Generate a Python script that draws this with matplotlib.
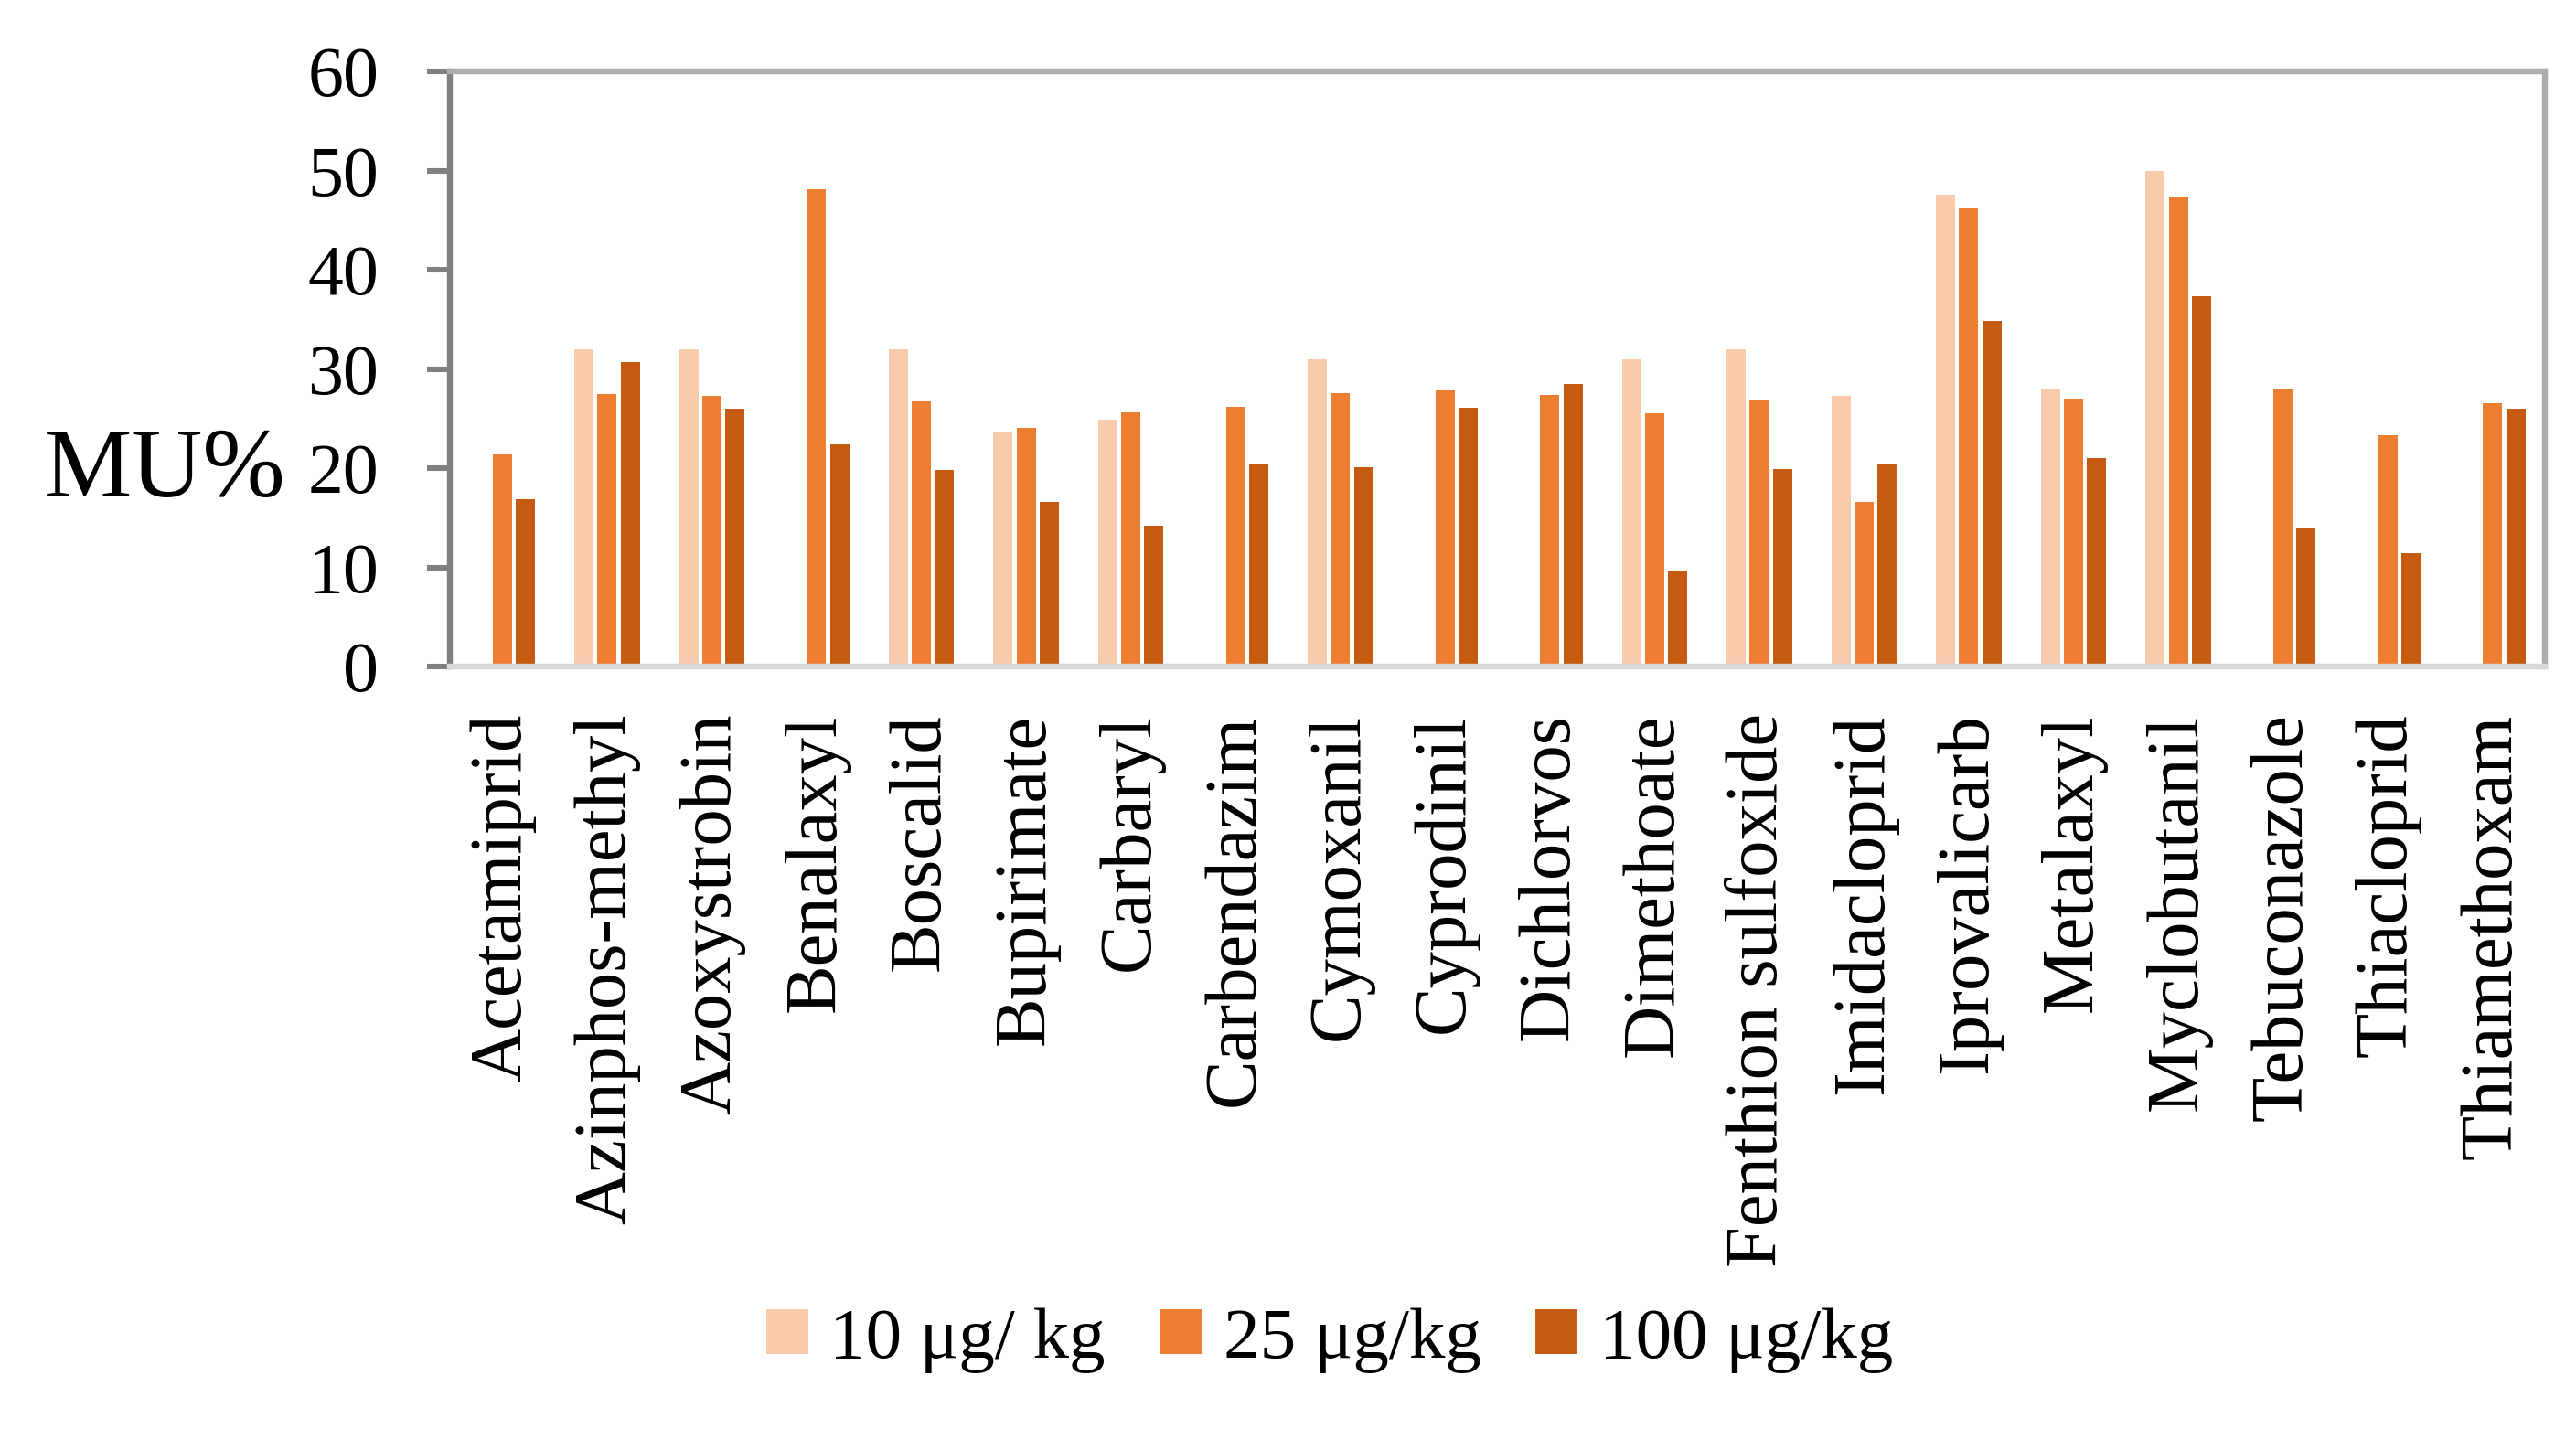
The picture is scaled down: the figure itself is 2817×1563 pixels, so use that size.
import numpy as np
import matplotlib
matplotlib.use("Agg")
import matplotlib.pyplot as plt

plt.rcParams['font.family'] = ['Liberation Serif', 'DejaVu Serif']

# ── data ────────────────────────────────────────────────────────────────
pesticides = ["Acetamiprid", "Azinphos-methyl", "Azoxystrobin", "Benalaxyl",
              "Boscalid", "Bupirimate", "Carbaryl", "Carbendazim", "Cymoxanil",
              "Cyprodinil", "Dichlorvos", "Dimethoate", "Fenthion sulfoxide",
              "Imidacloprid", "Iprovalicarb", "Metalaxyl", "Myclobutanil",
              "Tebuconazole", "Thiacloprid", "Thiamethoxam"]

mu_10 = [np.nan, 32.0, 32.0, np.nan, 32.0, 23.7, 24.9, np.nan, 31.0, np.nan,
         np.nan, 31.0, 32.0, 27.3, 47.6, 28.0, 50.0, np.nan, np.nan, np.nan]
mu_25 = [21.4, 27.5, 27.3, 48.1, 26.7, 24.1, 25.6, 26.2, 27.6, 27.8,
         27.4, 25.5, 26.9, 16.6, 46.3, 27.0, 47.4, 27.9, 23.3, 26.5]
mu_100 = [16.9, 30.7, 26.0, 22.4, 19.8, 16.6, 14.2, 20.5, 20.1, 26.1,
          28.5, 9.7, 19.9, 20.4, 34.8, 21.0, 37.3, 14.0, 11.4, 26.0]

series_labels = ["10 μg/ kg", "25 μg/kg", "100 μg/kg"]
colors = ["#F8CBAD", "#ED7D31", "#C55A11"]

# ── figure ──────────────────────────────────────────────────────────────
W, H = 2817, 1563
fig = plt.figure(figsize=(W / 100, H / 100), dpi=100)
ax = fig.add_axes([492 / W, 1 - 729 / H, (2783 - 492) / W, (729 - 78) / H])

x = np.arange(len(pesticides))
pitch = 0.221
width = 0.183
for i, (vals, lab, c) in enumerate(zip([mu_10, mu_25, mu_100], series_labels, colors)):
    ax.bar(x + (i - 1) * pitch, vals, width=width, color=c, label=lab, zorder=2)

ax.set_xlim(-0.5, len(pesticides) - 0.5)
ax.set_ylim(0, 60)
ax.set_yticks(np.arange(0, 61, 10))
ax.set_xticks(x)
ax.set_xticklabels(pesticides, rotation=90, ha='center', va='top')

ax.tick_params(axis='y', direction='out', length=18, width=4.4, color='#808080',
               labelsize=56, pad=38)
ax.tick_params(axis='x', length=0, labelsize=58, pad=37)

for side, col in [('left', '#808080'), ('top', '#AFABAB'),
                  ('right', '#AFABAB'), ('bottom', '#D9D9D9')]:
    ax.spines[side].set_color(col)
    ax.spines[side].set_linewidth(4.6)
ax.spines['bottom'].set_zorder(3)

fig.text(48 / W, 1 - 543 / H, "MU%", fontsize=78, ha='left', va='baseline')

fig.legend(loc='center', bbox_to_anchor=(1454 / W, 1 - 1466 / H), ncol=3,
           frameon=False, fontsize=57, handlelength=0.58, handleheight=0.58,
           handletextpad=0.3, columnspacing=0.75, borderpad=0)

fig.savefig("out.png", dpi=100)
